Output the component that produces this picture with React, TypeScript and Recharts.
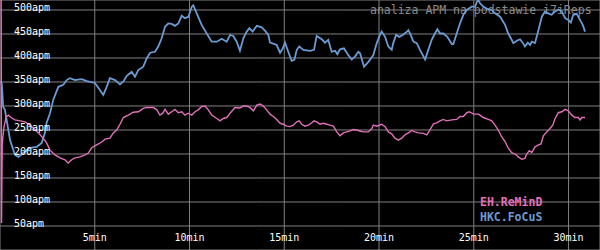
import React from 'react'
import { LineChart, Line, XAxis, YAxis, CartesianGrid, Customized } from 'recharts'

// time in minutes, apm values
const hkcMin = [
  0, 0.09, 0.17, 0.26, 0.53, 0.79, 0.97, 1.23, 1.58, 1.94,
  2.20, 2.37, 2.46, 2.64, 2.81, 3.08, 3.34, 3.52, 3.69, 3.96,
  4.31, 4.58, 5.01, 5.28, 5.45, 5.63, 5.80, 6.07, 6.33, 6.51,
  6.69, 6.95, 7.12, 7.30, 7.56, 7.74, 7.92, 8.18, 8.35, 8.53,
  8.71, 8.88, 9.06, 9.23, 9.41, 9.59, 9.76, 9.94, 10.12, 10.20,
  10.38, 10.64, 10.91, 11.17, 11.44, 11.70, 11.96, 12.14, 12.31, 12.49,
  12.66, 12.84, 13.02, 13.16, 13.33, 13.55, 13.81, 13.98, 14.16, 14.25,
  14.42, 14.60, 14.78, 14.92, 15.04, 15.21, 15.39, 15.53, 15.66, 15.79,
  16.01, 16.36, 16.57, 16.71, 16.98, 17.15, 17.32, 17.50, 17.68, 17.80,
  17.94, 18.15, 18.38, 18.56, 18.73, 18.91, 19.00, 19.21, 19.44, 19.70,
  19.88, 20.05, 20.14, 20.32, 20.49, 20.67, 20.75, 20.90, 21.07, 21.25,
  21.42, 21.55, 21.67, 21.81, 21.99, 22.16, 22.43, 22.60, 22.78, 22.95,
  23.08, 23.22, 23.39, 23.60, 23.84, 23.92, 24.10, 24.27, 24.45, 24.63,
  24.89, 25.07, 25.16, 25.24, 25.33, 25.50, 25.68, 25.95, 26.12, 26.39,
  26.65, 26.82, 27.00, 27.09, 27.27, 27.44, 27.58, 27.70, 27.85, 27.97,
  28.06, 28.23, 28.41, 28.59, 28.76, 28.93, 29.11, 29.29, 29.46, 29.64,
  29.82, 29.99, 30.12, 30.25, 30.43, 30.61, 30.75, 30.87,
]
const hkcApm = [
  350, 348, 298, 292, 229, 198, 194, 202, 213, 215,
  223, 244, 265, 285, 313, 340, 344, 354, 358, 354,
  356, 352, 348, 333, 323, 340, 358, 354, 345, 351,
  363, 371, 361, 375, 382, 399, 411, 413, 424, 441,
  465, 472, 471, 467, 472, 488, 483, 486, 507, 510,
  493, 469, 451, 434, 434, 440, 434, 448, 446, 434,
  415, 441, 455, 462, 455, 467, 464, 457, 448, 432,
  430, 427, 411, 420, 432, 413, 394, 396, 417, 424,
  417, 415, 417, 446, 439, 432, 438, 413, 415, 408,
  418, 420, 406, 397, 403, 413, 410, 382, 392, 406,
  431, 448, 455, 444, 424, 417, 431, 448, 444, 448,
  453, 458, 448, 434, 431, 417, 397, 417, 438, 451,
  460, 451, 451, 444, 429, 429, 451, 472, 490, 500,
  507, 507, 517, 521, 514, 507, 503, 500, 493, 486,
  469, 451, 438, 431, 436, 439, 432, 424, 432, 427,
  434, 431, 458, 486, 497, 493, 490, 497, 501, 497,
  483, 479, 474, 490, 492, 479, 469, 455,
]

const ehMin = [
  0.06, 0.08, 0.12, 0.21, 0.32, 0.44, 0.62, 0.79, 1.06, 1.32,
  1.58, 1.76, 2.02, 2.28, 2.46, 2.64, 2.90, 3.17, 3.43, 3.60,
  3.78, 3.96, 4.22, 4.49, 4.66, 4.84, 5.10, 5.37, 5.54, 5.80,
  5.98, 6.16, 6.33, 6.51, 6.77, 7.03, 7.30, 7.56, 7.74, 8.09,
  8.27, 8.44, 8.59, 8.71, 8.88, 9.06, 9.23, 9.41, 9.59, 9.76,
  9.94, 10.12, 10.29, 10.46, 10.64, 10.82, 10.99, 11.17, 11.44, 11.61,
  11.78, 11.96, 12.14, 12.40, 12.66, 12.84, 13.02, 13.19, 13.37, 13.55,
  13.72, 13.89, 14.07, 14.25, 14.42, 14.60, 14.78, 14.95, 15.13, 15.30,
  15.48, 15.66, 15.79, 15.92, 16.09, 16.27, 16.45, 16.57, 16.71, 16.89,
  17.06, 17.24, 17.41, 17.59, 17.77, 17.94, 18.12, 18.30, 18.47, 18.64,
  18.82, 19.00, 19.17, 19.44, 19.62, 19.70, 19.88, 20.14, 20.32, 20.49,
  20.67, 20.84, 21.02, 21.20, 21.37, 21.55, 21.73, 21.90, 22.07, 22.34,
  22.52, 22.69, 22.87, 23.04, 23.22, 23.39, 23.57, 23.84, 24.10, 24.27,
  24.45, 24.63, 24.77, 24.98, 25.24, 25.33, 25.50, 25.77, 25.95, 26.12,
  26.30, 26.47, 26.65, 26.82, 27.00, 27.18, 27.35, 27.53, 27.70, 27.79,
  27.93, 28.06, 28.23, 28.41, 28.55, 28.67, 28.85, 29.02, 29.17, 29.29,
  29.46, 29.64, 29.82, 29.99, 30.17, 30.34, 30.52, 30.61, 30.70, 30.87,
]
const ehApm = [
  600, 56, 223, 256, 277, 281, 275, 271, 269, 267,
  260, 254, 244, 233, 223, 208, 198, 192, 188, 181,
  188, 192, 194, 198, 202, 213, 219, 225, 231, 233,
  244, 250, 262, 276, 281, 287, 288, 295, 297, 297,
  292, 281, 285, 293, 283, 288, 293, 286, 288, 281,
  285, 281, 288, 292, 299, 300, 292, 281, 274, 269,
  274, 276, 285, 297, 296, 300, 300, 297, 290, 302,
  304, 300, 292, 283, 278, 272, 264, 262, 258, 257,
  260, 267, 269, 262, 258, 260, 265, 269, 267, 262,
  264, 262, 260, 258, 246, 238, 244, 246, 248, 251,
  250, 248, 246, 246, 253, 260, 258, 262, 257, 246,
  242, 233, 229, 233, 240, 244, 249, 246, 244, 243,
  240, 250, 263, 265, 269, 272, 269, 271, 272, 278,
  278, 286, 288, 283, 283, 281, 276, 272, 269, 260,
  249, 236, 226, 212, 203, 200, 194, 189, 191, 200,
  207, 203, 215, 219, 221, 238, 246, 253, 260, 274,
  286, 288, 293, 290, 281, 276, 276, 271, 276, 276,
]

const minuteTicks = [5, 10, 15, 20, 25, 30]
const apmTicks = [50, 100, 150, 200, 250, 300, 350, 400, 450, 500]

const hkcData = hkcMin.map((t, i) => ({ t, v: hkcApm[i] }))
const ehData = ehMin.map((t, i) => ({ t, v: ehApm[i] }))

const MONO = '"DejaVu Sans Mono", monospace'

const YTick = ({ y, payload }: any) => (
  <text x={14} y={y + 1} fill="#ffffff" fontSize={10} fontFamily={MONO}>
    {`${payload.value}apm`}
  </text>
)

const XTick = ({ x, payload }: any) => (
  <text x={x} y={241} fill="#ffffff" fontSize={10} fontFamily={MONO} textAnchor="middle">
    {`${payload.value}min`}
  </text>
)

const Title = () => (
  <text x={370} y={14} fill="#8a8a8a" fontSize={11.5} fontFamily={MONO}>
    analiza APM na podstawie i7iReps
  </text>
)

const LegendText = () => (
  <g fontFamily={MONO} fontSize={11.5} fontWeight="bold">
    <text x={480} y={206} fill="#e070b8">EH.ReMinD</text>
    <text x={480} y={221} fill="#6b9bd2">HKC.FoCuS</text>
  </g>
)

export default function App() {
  return (
    <div style={{ position: 'fixed', top: 0, left: 0, width: 600, height: 250, background: '#000' }}>
      <LineChart width={600} height={250} margin={{ top: 0, right: 0, bottom: 0, left: 0 }}>
        <CartesianGrid stroke="#808080" strokeWidth={1} />
        <XAxis
          type="number"
          dataKey="t"
          domain={[0, 31.66]}
          allowDataOverflow
          ticks={minuteTicks}
          interval={0}
          mirror
          axisLine={false}
          tickLine={false}
          tick={<XTick />}
        />
        <YAxis
          type="number"
          domain={[0, 520.83]}
          allowDataOverflow
          ticks={apmTicks}
          interval={0}
          mirror
          axisLine={false}
          tickLine={false}
          tick={<YTick />}
        />
        <Customized component={Title} />
        <Line
          data={hkcData}
          dataKey="v"
          type="linear"
          stroke="#6b9bd2"
          strokeWidth={1.8}
          dot={false}
          activeDot={false}
          isAnimationActive={false}
        />
        <Line
          data={ehData}
          dataKey="v"
          type="linear"
          stroke="#e070b8"
          strokeWidth={1.4}
          dot={false}
          activeDot={false}
          isAnimationActive={false}
        />
        <Customized component={LegendText} />
      </LineChart>
    </div>
  )
}
